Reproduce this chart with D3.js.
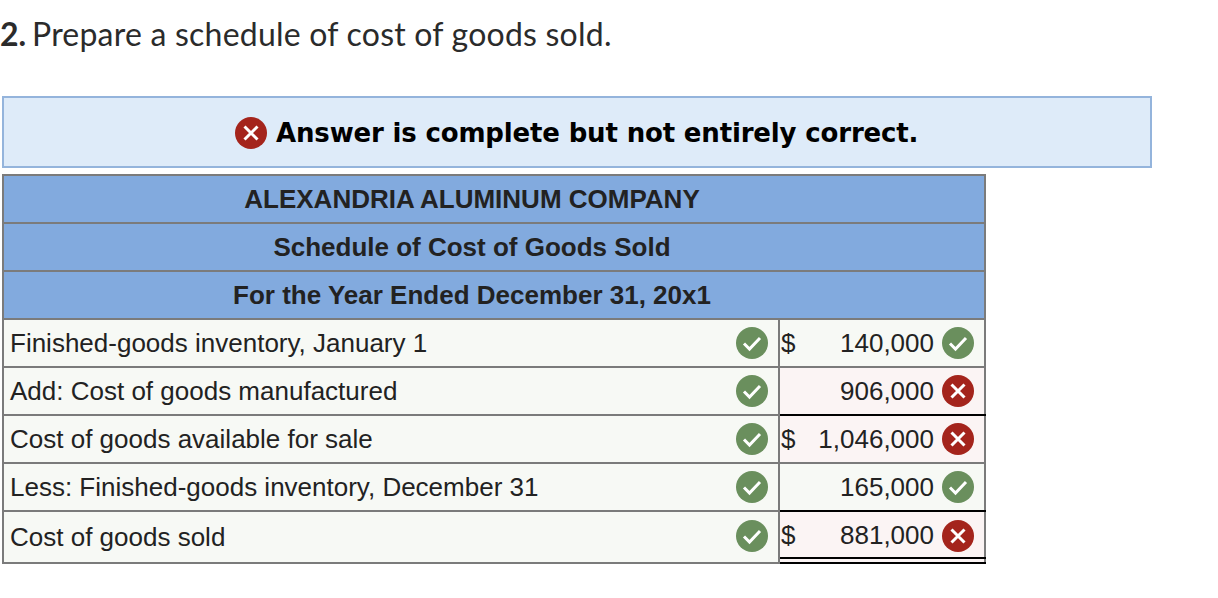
<!DOCTYPE html>
<html>
<head>
<meta charset="utf-8">
<script src="https://cdn.jsdelivr.net/npm/d3@7"></script>
<style>
  html, body { margin: 0; padding: 0; background: #fff; }
  svg { display: block; }
</style>
</head>
<body>
<svg id="sheet" width="1218" height="598"></svg>
<script>
const headerLines = ["ALEXANDRIA ALUMINUM COMPANY", "Schedule of Cost of Goods Sold", "For the Year Ended December 31, 20x1"];
const rowLabels = ["Finished-goods inventory, January 1", "Add: Cost of goods manufactured", "Cost of goods available for sale", "Less: Finished-goods inventory, December 31", "Cost of goods sold"];
const rowAmounts = [140000, 906000, 1046000, 165000, 881000];
const rowDollar = [true, false, true, false, true];
const amountCorrect = [true, false, false, true, false];

const svg = d3.select("#sheet");
const fmt = d3.format(",");
const tableFont = "'Liberation Sans', Arial, sans-serif";

// one band per table row, header rows first
const rowIds = d3.range(headerLines.length + rowLabels.length);
const y = d3.scaleBand().domain(rowIds).range([175, 559]);
const rowTop = i => y(i);
const rowBottom = i => y(i) + y.bandwidth() + (i === rowIds.length - 1 ? 4 : 0);

const tableLeft = 3, tableRight = 985, splitX = 779;

// title
const title = svg.append("text")
  .attr("y", 46)
  .style("font-family", "Lato, sans-serif")
  .style("font-size", "32px")
  .style("fill", "#2b2b2b");
title.append("tspan").attr("x", 0).style("font-weight", "bold").text("2.");
title.append("tspan").attr("x", 32).style("letter-spacing", "0.22px").text("Prepare a schedule of cost of goods sold.");

// answer banner
svg.append("rect")
  .attr("x", 3).attr("y", 97).attr("width", 1148).attr("height", 70)
  .attr("fill", "#deebf9").attr("stroke", "#94b4dc").attr("stroke-width", 2);

function badge(cx, cy, ok) {
  const g = svg.append("g").attr("transform", "translate(" + cx + "," + cy + ")");
  g.append("circle").attr("r", 16).attr("fill", ok ? "#6a8f5d" : "#a4241c");
  if (ok) {
    g.append("path").attr("d", "M-8,0.5L-2.5,6L8,-5")
      .attr("fill", "none").attr("stroke", "#fff").attr("stroke-width", 3);
  } else {
    g.append("path").attr("d", "M-6.5,-6.5L6.5,6.5M6.5,-6.5L-6.5,6.5")
      .attr("fill", "none").attr("stroke", "#fff").attr("stroke-width", 3);
  }
}

badge(251, 133, false);
svg.append("text")
  .attr("x", 276).attr("y", 142)
  .style("font-family", "'DejaVu Sans', Verdana, sans-serif")
  .style("font-weight", "bold").style("font-size", "26px")
  .style("letter-spacing", "-0.16px")
  .style("fill", "#000")
  .text("Answer is complete but not entirely correct.");

// header rows
svg.selectAll("rect.head")
  .data(headerLines)
  .enter().append("rect")
  .attr("class", "head")
  .attr("x", tableLeft).attr("width", tableRight - tableLeft)
  .attr("y", (d, i) => rowTop(i)).attr("height", y.bandwidth())
  .attr("fill", "#82aade");

svg.selectAll("text.head")
  .data(headerLines)
  .enter().append("text")
  .attr("class", "head")
  .attr("x", 472)
  .attr("y", (d, i) => rowTop(i) + 33)
  .attr("text-anchor", "middle")
  .style("font-family", tableFont).style("font-weight", "bold").style("font-size", "26px")
  .style("fill", "#222")
  .text(d => d);

// body rows
const n = headerLines.length;
const body = svg.selectAll("g.row")
  .data(rowLabels)
  .enter().append("g")
  .attr("class", "row");

body.append("rect")
  .attr("x", tableLeft).attr("width", splitX - tableLeft)
  .attr("y", (d, i) => rowTop(n + i)).attr("height", (d, i) => rowBottom(n + i) - rowTop(n + i))
  .attr("fill", "#f7f9f5");

body.append("rect")
  .attr("x", splitX).attr("width", tableRight - splitX)
  .attr("y", (d, i) => rowTop(n + i)).attr("height", (d, i) => rowBottom(n + i) - rowTop(n + i))
  .attr("fill", (d, i) => amountCorrect[i] ? "#f7f9f5" : "#fbf4f4");

body.append("text")
  .attr("x", 10)
  .attr("y", (d, i) => rowTop(n + i) + 33 + (i === rowLabels.length - 1 ? 2 : 0))
  .style("font-family", tableFont).style("font-size", "26px").style("fill", "#222")
  .text(d => d);

body.append("text")
  .attr("x", 934)
  .attr("y", (d, i) => rowTop(n + i) + 33)
  .attr("text-anchor", "end")
  .style("font-family", tableFont).style("font-size", "26px").style("fill", "#222")
  .text((d, i) => fmt(rowAmounts[i]));

body.filter((d, i) => rowDollar[i]).append("text")
  .attr("x", 781)
  .attr("y", function () { return rowTop(n + rowLabels.indexOf(d3.select(this.parentNode).datum())) + 33; })
  .style("font-family", tableFont).style("font-size", "26px").style("fill", "#222")
  .text("$");

// grid lines
const gridColor = "#7b7b7b";
const grid = svg.append("g").attr("stroke", gridColor).attr("stroke-width", 2);
rowIds.forEach(i => {
  grid.append("line").attr("x1", tableLeft - 1).attr("x2", tableRight + 1).attr("y1", rowTop(i)).attr("y2", rowTop(i));
});
grid.append("line").attr("x1", tableLeft - 1).attr("x2", splitX + 1)
  .attr("y1", rowBottom(rowIds.length - 1)).attr("y2", rowBottom(rowIds.length - 1));
grid.append("line").attr("x1", tableLeft).attr("x2", tableLeft).attr("y1", rowTop(0)).attr("y2", rowBottom(rowIds.length - 1));
grid.append("line").attr("x1", tableRight).attr("x2", tableRight).attr("y1", rowTop(0)).attr("y2", rowBottom(rowIds.length - 1));
grid.append("line").attr("x1", splitX).attr("x2", splitX).attr("y1", rowTop(n)).attr("y2", rowBottom(rowIds.length - 1));

// accounting rules above totals, double rule under the last one
const rules = svg.append("g").attr("stroke", "#000").attr("stroke-width", 2);
rowAmounts.forEach((v, i) => {
  if (i === 2 || i === 4) {
    rules.append("line").attr("x1", splitX + 1).attr("x2", tableRight + 1).attr("y1", rowTop(n + i)).attr("y2", rowTop(n + i));
  }
});
const last = rowBottom(rowIds.length - 1);
rules.append("line").attr("x1", splitX + 1).attr("x2", tableRight + 1).attr("y1", last - 5).attr("y2", last - 5);
rules.append("line").attr("x1", splitX + 1).attr("x2", tableRight + 1).attr("y1", last).attr("y2", last);

// check marks
rowLabels.forEach((d, i) => {
  const cy = rowTop(n + i) + 24 + (i === rowLabels.length - 1 ? 1 : 0);
  badge(752, cy, true);
  badge(958, cy, amountCorrect[i]);
});
</script>
</body>
</html>
